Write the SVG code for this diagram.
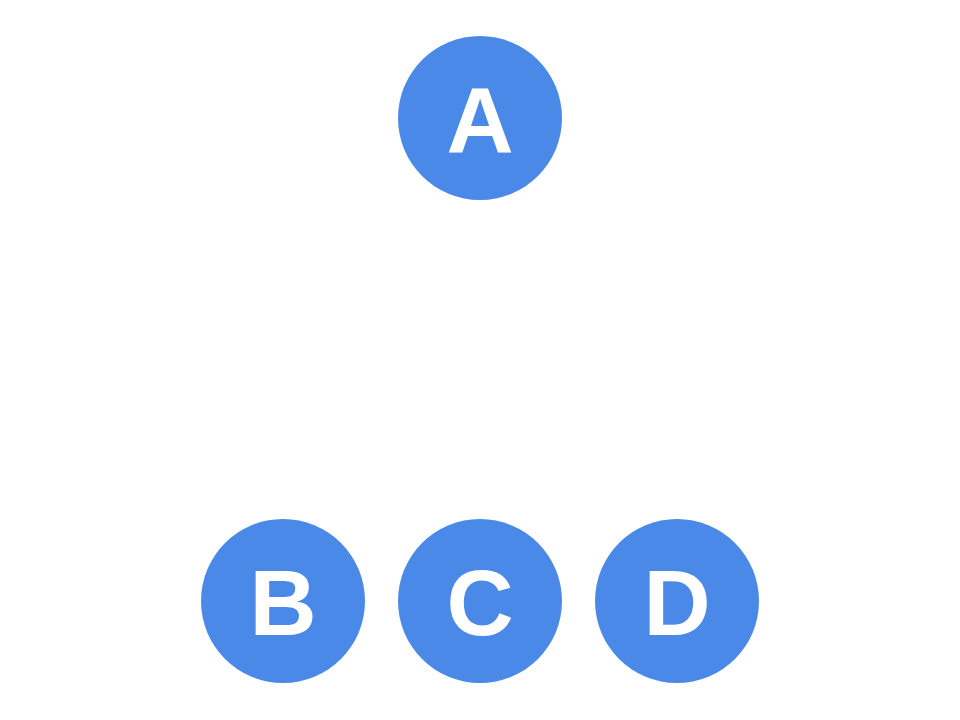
<svg xmlns="http://www.w3.org/2000/svg" width="960" height="720" viewBox="0 0 960 720">
<style>
.node circle{fill:#4A89E8}
.node text{fill:#fff;font-family:"Liberation Sans",Arial,sans-serif;font-weight:bold;font-size:93px;text-anchor:middle}
</style>
<rect width="960" height="720" fill="#fff"/>
<g id="connectors"></g>
<g id="A" class="node"><circle cx="480" cy="118" r="82"/><text x="480" y="152">A</text></g>
<g id="B" class="node"><circle cx="283" cy="601" r="82"/><text x="283" y="635">B</text></g>
<g id="C" class="node"><circle cx="480" cy="601" r="82"/><text x="480" y="635">C</text></g>
<g id="D" class="node"><circle cx="677" cy="601" r="82"/><text x="677" y="635">D</text></g>
</svg>
